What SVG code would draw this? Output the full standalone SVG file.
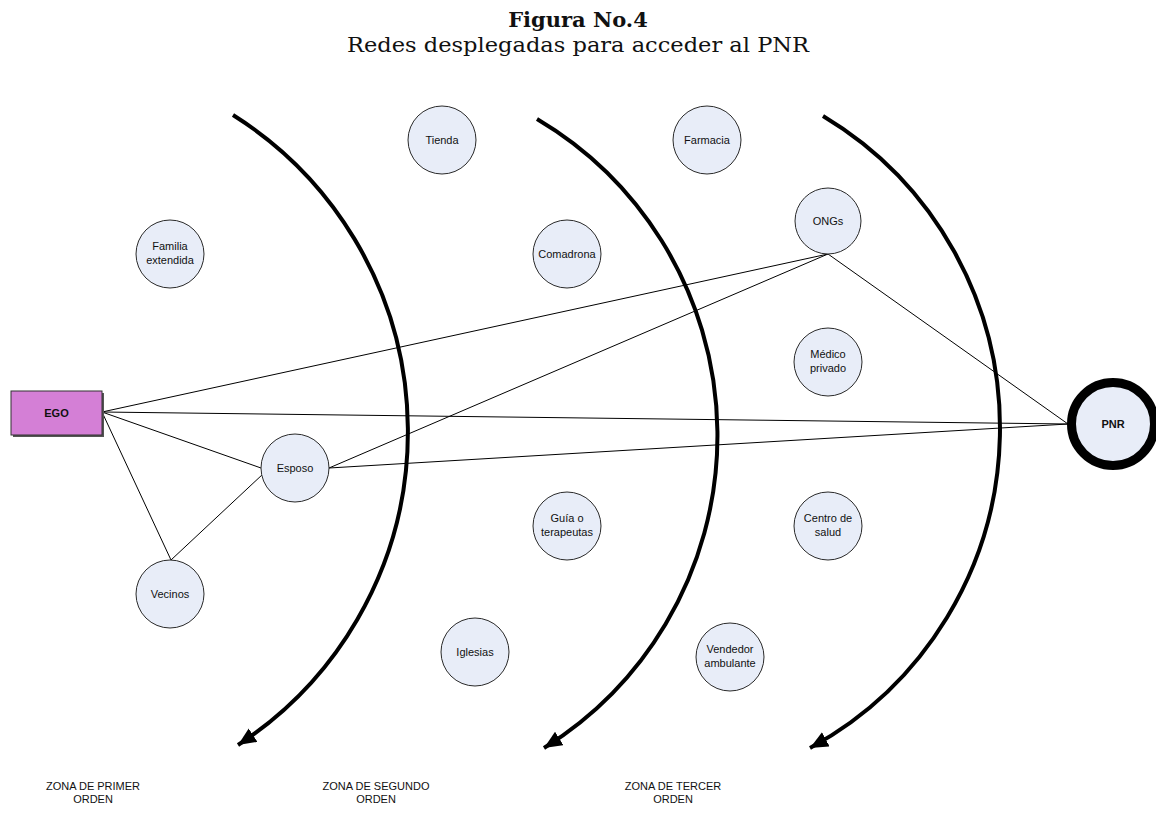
<svg xmlns="http://www.w3.org/2000/svg" width="1156" height="836" viewBox="0 0 1156 836">
<style>
.node{fill:#e8edf8;stroke:#2a2a2a;stroke-width:1}
.lbl{font-family:"Liberation Sans",Arial,sans-serif;font-size:11px;fill:#111;text-anchor:middle}
.zone{font-family:"Liberation Sans",Arial,sans-serif;font-size:11px;fill:#111;text-anchor:middle}
.conn{stroke:#000;stroke-width:1;fill:none}
.arc{stroke:#000;stroke-width:4;fill:none;marker-end:url(#ah)}
</style>
<defs>
<marker id="ah" markerUnits="userSpaceOnUse" markerWidth="24" markerHeight="24" refX="18" refY="8" orient="auto">
<path d="M0,0 L18,8 L0,16 Z" fill="#000"/>
</marker>
</defs>
<rect width="1156" height="836" fill="#fff"/>
<text x="578" y="27" font-family="DejaVu Serif,Liberation Serif,serif" font-size="21" font-weight="bold" text-anchor="middle" fill="#111">Figura No.4</text>
<text x="578" y="52" font-family="DejaVu Serif,Liberation Serif,serif" font-size="21" text-anchor="middle" fill="#111" textLength="462" lengthAdjust="spacingAndGlyphs">Redes desplegadas para acceder al PNR</text>

<g id="zones">
<path class="arc" d="M233,115 A374,374 0 0 1 238,745"/>
<path class="arc" d="M537,119 A368,368 0 0 1 544,748"/>
<path class="arc" d="M823,116 A364,364 0 0 1 810,748"/>
</g>

<g id="connectors">
<line class="conn" x1="102" y1="412" x2="828" y2="254"/>
<line class="conn" x1="102" y1="412" x2="1068" y2="424"/>
<line class="conn" x1="102" y1="412" x2="261" y2="468"/>
<line class="conn" x1="102" y1="412" x2="171" y2="560"/>
<line class="conn" x1="171" y1="560" x2="263" y2="474"/>
<line class="conn" x1="329" y1="468" x2="828" y2="254"/>
<line class="conn" x1="329" y1="468" x2="1068" y2="424"/>
<line class="conn" x1="828" y1="254" x2="1068" y2="424"/>
</g>

<g id="ego">
<rect x="13" y="393" width="91" height="44" fill="#555"/>
<rect x="11" y="391" width="91" height="44" fill="#d47fd6" stroke="#333" stroke-width="1"/>
<text x="56.5" y="417" font-family="Liberation Sans,Arial,sans-serif" font-size="11" font-weight="bold" text-anchor="middle" fill="#111">EGO</text>
</g>
<g id="pnr">
<circle cx="1113" cy="424" r="41.5" fill="#e8edf8" stroke="#000" stroke-width="9"/>
<text x="1113" y="428" font-family="Liberation Sans,Arial,sans-serif" font-size="11" font-weight="bold" text-anchor="middle" fill="#111">PNR</text>
</g>
<g id="tienda"><circle class="node" cx="442" cy="140" r="34"/><text class="lbl" x="442" y="144">Tienda</text></g>
<g id="farmacia"><circle class="node" cx="707" cy="140" r="34"/><text class="lbl" x="707" y="144">Farmacia</text></g>
<g id="familia"><circle class="node" cx="170" cy="254" r="34"/><text class="lbl" x="170" y="250">Familia</text><text class="lbl" x="170" y="264">extendida</text></g>
<g id="comadrona"><circle class="node" cx="567" cy="254" r="34"/><text class="lbl" x="567" y="258" font-size="10">Comadrona</text></g>
<g id="ongs"><circle class="node" cx="828" cy="221" r="33"/><text class="lbl" x="828" y="225">ONGs</text></g>
<g id="medico"><circle class="node" cx="828" cy="362" r="34"/><text class="lbl" x="828" y="358">Médico</text><text class="lbl" x="828" y="372">privado</text></g>
<g id="esposo"><circle class="node" cx="295" cy="468" r="34"/><text class="lbl" x="295" y="472">Esposo</text></g>
<g id="guia"><circle class="node" cx="567" cy="526" r="34"/><text class="lbl" x="567" y="522">Guía o</text><text class="lbl" x="567" y="536">terapeutas</text></g>
<g id="centro"><circle class="node" cx="828" cy="526" r="34"/><text class="lbl" x="828" y="522">Centro de</text><text class="lbl" x="828" y="536">salud</text></g>
<g id="vecinos"><circle class="node" cx="170" cy="594" r="34"/><text class="lbl" x="170" y="598">Vecinos</text></g>
<g id="iglesias"><circle class="node" cx="475" cy="652" r="34"/><text class="lbl" x="475" y="656">Iglesias</text></g>
<g id="vendedor"><circle class="node" cx="730" cy="657" r="34"/><text class="lbl" x="730" y="653">Vendedor</text><text class="lbl" x="730" y="667">ambulante</text></g>

<g id="zone-labels">
<text class="zone" x="93" y="790">ZONA DE PRIMER</text><text class="zone" x="93" y="803">ORDEN</text>
<text class="zone" x="376" y="790">ZONA DE SEGUNDO</text><text class="zone" x="376" y="803">ORDEN</text>
<text class="zone" x="673" y="790">ZONA DE TERCER</text><text class="zone" x="673" y="803">ORDEN</text>
</g>
</svg>
